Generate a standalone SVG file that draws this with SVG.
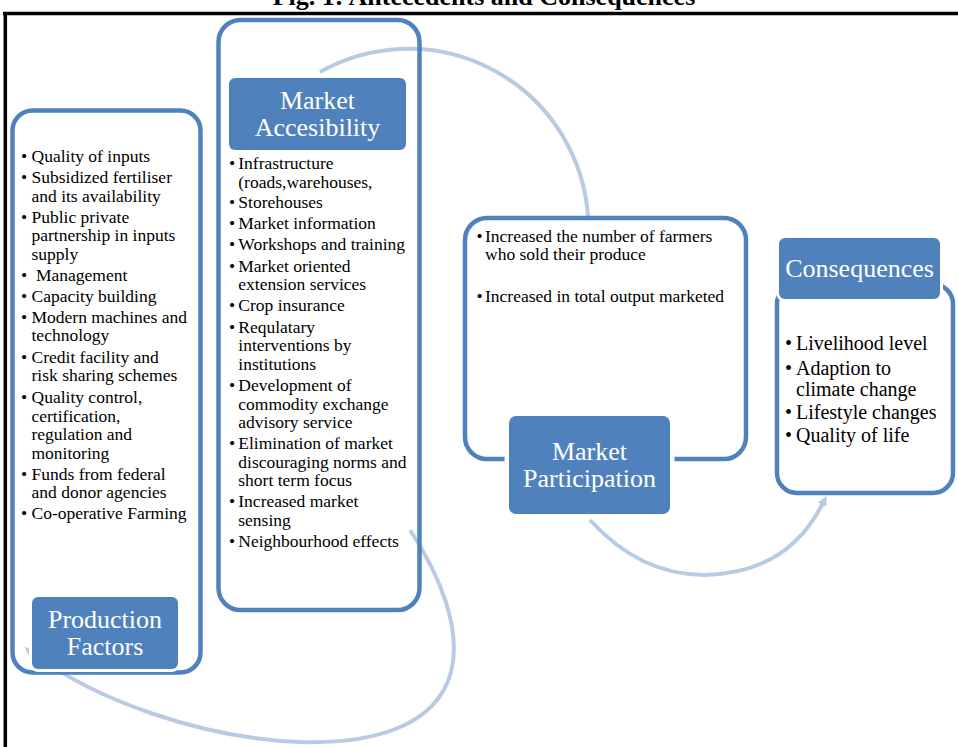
<svg xmlns="http://www.w3.org/2000/svg" width="958" height="747" viewBox="0 0 958 747">
<style>
.outer{fill:none;stroke:#4f81bd;stroke-width:4.5}
.lbl{fill:#4f81bd;stroke:#ffffff;stroke-width:6;paint-order:stroke}
.lt{font-family:"Liberation Serif","Times New Roman",serif;font-size:26px;fill:#ffffff;text-anchor:middle}
.bt{font-family:"Liberation Serif","Times New Roman",serif;font-size:17.5px;fill:#000000}
.ct{font-family:"Liberation Serif","Times New Roman",serif;font-size:20px;fill:#000000}
.arc{fill:none;stroke:#b9cae3;stroke-width:4}
</style>
<defs>
<marker id="ah" viewBox="0 0 10 10" refX="2" refY="5" markerWidth="10" markerHeight="10" markerUnits="userSpaceOnUse" orient="auto">
<path d="M0,0 L10,5 L0,10 z" fill="#b9cae3"/>
</marker>
</defs>
<rect width="958" height="747" fill="#ffffff"/>
<text x="484" y="5" font-family="Liberation Serif, Times New Roman, serif" font-size="26" font-weight="bold" text-anchor="middle">Fig. 1: Antecedents and Consequences</text>
<g id="frame" stroke="#000" stroke-width="3.5" fill="none">
<line x1="3" y1="13.5" x2="958" y2="13.5"/>
<line x1="5.3" y1="12" x2="5.3" y2="747"/>
</g>
<g id="connectors">
<path class="arc" d="M320,72 A180,180 0 0 1 588,216"/>
<path class="arc" d="M410,530 C440,575 462,630 451,672 C436,728 370,744 300,742 C200,738 95,700 31,652" marker-end="url(#ah)"/>
<path class="arc" d="M590,520 Q640,575 705,575 Q788,573 823,503" marker-end="url(#ah)"/>
</g>
<g id="production-factors">
<rect class="outer" x="12.5" y="110.5" width="188" height="562" rx="20"/>
<g class="bt">
<text x="21" y="162">•</text><text x="31.5" y="162">Quality of inputs</text>
<text x="21" y="183">•</text><text x="31.5" y="183">Subsidized fertiliser</text>
<text x="31.5" y="201.5">and its availability</text>
<text x="21" y="222.5">•</text><text x="31.5" y="222.5">Public private</text>
<text x="31.5" y="241">partnership in inputs</text>
<text x="31.5" y="259.5">supply</text>
<text x="21" y="280.5">•</text><text x="36" y="280.5">Management</text>
<text x="21" y="301.5">•</text><text x="31.5" y="301.5">Capacity building</text>
<text x="21" y="322.5">•</text><text x="31.5" y="322.5">Modern machines and</text>
<text x="31.5" y="341">technology</text>
<text x="21" y="362.5">•</text><text x="31.5" y="362.5">Credit facility and</text>
<text x="31.5" y="381">risk sharing schemes</text>
<text x="21" y="403">•</text><text x="31.5" y="403">Quality control,</text>
<text x="31.5" y="421.5">certification,</text>
<text x="31.5" y="440">regulation and</text>
<text x="31.5" y="458.5">monitoring</text>
<text x="21" y="479.5">•</text><text x="31.5" y="479.5">Funds from federal</text>
<text x="31.5" y="498">and donor agencies</text>
<text x="21" y="519">•</text><text x="31.5" y="519">Co-operative Farming</text>
</g>
<rect class="lbl" x="32" y="597" width="146" height="72" rx="6"/>
<text class="lt" x="105" y="628">Production</text>
<text class="lt" x="105" y="655">Factors</text>
</g>
<g id="market-accesibility">
<rect class="outer" x="218.5" y="20" width="201" height="590" rx="22"/>
<rect class="lbl" x="229" y="78" width="177" height="72" rx="6"/>
<text class="lt" x="317.5" y="108.5">Market</text>
<text class="lt" x="317.5" y="136">Accesibility</text>
<g class="bt">
<text x="229" y="169">•</text><text x="238.3" y="169">Infrastructure</text>
<text x="238.3" y="187.5">(roads,warehouses,</text>
<text x="229" y="208">•</text><text x="238.3" y="208">Storehouses</text>
<text x="229" y="229">•</text><text x="238.3" y="229">Market information</text>
<text x="229" y="250">•</text><text x="238.3" y="250">Workshops and training</text>
<text x="229" y="271.5">•</text><text x="238.3" y="271.5">Market oriented</text>
<text x="238.3" y="290">extension services</text>
<text x="229" y="311">•</text><text x="238.3" y="311">Crop insurance</text>
<text x="229" y="332.5">•</text><text x="238.3" y="332.5">Requlatary</text>
<text x="238.3" y="351">interventions by</text>
<text x="238.3" y="370">institutions</text>
<text x="229" y="391">•</text><text x="238.3" y="391">Development of</text>
<text x="238.3" y="409.5">commodity exchange</text>
<text x="238.3" y="428">advisory service</text>
<text x="229" y="449">•</text><text x="238.3" y="449">Elimination of market</text>
<text x="238.3" y="467.5">discouraging norms and</text>
<text x="238.3" y="486">short term focus</text>
<text x="229" y="507">•</text><text x="238.3" y="507">Increased market</text>
<text x="238.3" y="525.5">sensing</text>
<text x="229" y="546.5">•</text><text x="238.3" y="546.5">Neighbourhood effects</text>
</g>
</g>
<g id="market-participation">
<rect class="outer" x="465" y="218" width="281" height="241" rx="22"/>
<g class="bt">
<text x="476.5" y="241.5">•</text><text x="485" y="241.5">Increased the number of farmers</text>
<text x="485" y="260">who sold their produce</text>
<text x="476.5" y="301.5">•</text><text x="485" y="301.5">Increased in total output marketed</text>
</g>
<rect x="509" y="416" width="161" height="98" rx="7" fill="#4f81bd" stroke="#ffffff" stroke-width="9" paint-order="stroke"/>
<text class="lt" x="589.5" y="460">Market</text>
<text class="lt" x="589.5" y="487">Participation</text>
</g>
<g id="consequences">
<rect class="outer" x="777" y="284" width="176" height="209" rx="20"/>
<rect class="lbl" x="779" y="238" width="161" height="61" rx="6"/>
<text class="lt" x="859.5" y="277">Consequences</text>
<g class="ct">
<text x="785" y="350">•</text><text x="796" y="350">Livelihood level</text>
<text x="785" y="375">•</text><text x="796" y="375">Adaption to</text>
<text x="796" y="395.5">climate change</text>
<text x="785" y="418.5">•</text><text x="796" y="418.5">Lifestyle changes</text>
<text x="785" y="442">•</text><text x="796" y="442">Quality of life</text>
</g>
</g>
</svg>
